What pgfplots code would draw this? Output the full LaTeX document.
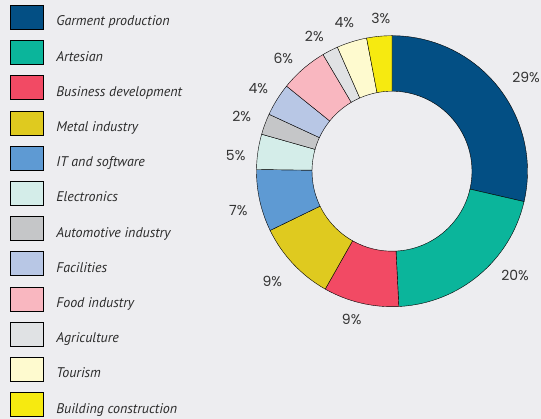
\documentclass[border=0pt]{standalone}
\usepackage{pgfplots}
\pgfplotsset{compat=1.18}
\usepackage{pgfplotstable}
\usepackage{fontspec}
\setmainfont{PT Sans}
\newfontfamily\labfont{Poppins}

\definecolor{bgcol}{HTML}{EDEDF0}
\definecolor{labgray}{HTML}{333333}
\definecolor{legtext}{HTML}{2B2B2B}
\definecolor{garment}{HTML}{034F84}
\definecolor{artesian}{HTML}{0BB59B}
\definecolor{business}{HTML}{F24A64}
\definecolor{metal}{HTML}{DFCA1F}
\definecolor{itsoft}{HTML}{5E9AD3}
\definecolor{electro}{HTML}{D4EDE9}
\definecolor{automot}{HTML}{C5C6C8}
\definecolor{facil}{HTML}{B8C7E5}
\definecolor{food}{HTML}{F9B7C0}
\definecolor{agri}{HTML}{E0E2E4}
\definecolor{tourism}{HTML}{FEFACF}
\definecolor{building}{HTML}{F6EA10}
\def\colname#1{\ifcase#1 garment\or artesian\or business\or metal\or itsoft\or
  electro\or automot\or facil\or food\or agri\or tourism\or building\fi}

% share of the ring, start of each wedge,
% printed label and where the label sits (px from left, px from bottom)
\pgfplotstableread{
idx value start lab lx    ly
0   28.6  0.0   29  526.0 342.0
1   20.6  28.6  20  515.0 144.0
2   9.0   49.2  9   351.7 100.0
3   9.6   58.2  9   272.3 138.0
4   7.4   67.8  7   238.3 208.0
5   4.2   75.2  5   235.7 263.3
6   2.5   79.4  2   241.7 302.3
7   3.9   81.9  4   258.3 330.7
8   5.7   85.8  6   283.3 360.7
9   1.9   91.5  2   314.3 383.0
10  3.6   93.4  4   344.3 396.3
11  3.0   97.0  3   380.7 400.7
}\segs

\def\rout{135.5pt}
\def\rin{80pt}

\begin{document}
\begin{tikzpicture}
\fill[bgcol] (0,0) rectangle (541pt,419pt);
\begin{axis}[
  at={(0,0)}, anchor=south west,
  width=541pt, height=419pt, scale only axis,
  xmin=0, xmax=541, ymin=0, ymax=419,
  hide axis, clip=false,
  legend image code/.code={\fill[#1] (0pt,-7.5pt) rectangle (33pt,16.5pt);},
  legend cell align=left,
  legend style={at={(0.0185,0.9881)}, anchor=north west,
    draw=none, fill=none, inner sep=0pt, outer sep=0pt,
    row sep=10.8pt, column sep=13pt,
    nodes={inner sep=0pt, text=legtext,
      font=\itshape\fontsize{14}{16}\selectfont}},
]
% ring wedges
\addplot[forget plot, scatter, only marks, mark=*, mark size=0pt,
  visualization depends on={\thisrow{start}\as\segstart},
  visualization depends on={\thisrow{value}\as\segval},
  visualization depends on={\thisrow{idx}\as\segidx},
  scatter/@pre marker code/.code={
    \pgfmathsetmacro\aA{90-3.6*\segstart}
    \pgfmathsetmacro\aB{90-3.6*(\segstart+\segval)}
    \pgfmathtruncatemacro\ii{round(\segidx)}
    \edef\cc{\colname{\ii}}
    \fill[fill=\cc] (\aA:\rout) arc[start angle=\aA, end angle=\aB, radius=\rout]
      -- (\aB:\rin) arc[start angle=\aB, end angle=\aA, radius=\rin] -- cycle;
    \scope[opacity=0]
  },
  scatter/@post marker code/.code={\endscope},
] table[x expr=392, y expr=247.8] {\segs};

% percentage labels
\addplot[forget plot, only marks, mark=*, mark size=0pt,
  mark options={draw opacity=0, fill opacity=0},
  point meta=explicit,
  nodes near coords={\labfont\fontsize{14}{16}\selectfont
    \pgfmathprintnumber[assume math mode=true]{\pgfplotspointmeta}\%},
  every node near coord/.append style={anchor=center, inner sep=0pt,
    text=labgray, opacity=1},
] table[x=lx, y=ly, meta=lab] {\segs};

\addlegendimage{fill=garment}
\addlegendimage{fill=artesian}
\addlegendimage{fill=business}
\addlegendimage{fill=metal}
\addlegendimage{fill=itsoft}
\addlegendimage{fill=electro}
\addlegendimage{fill=automot}
\addlegendimage{fill=facil}
\addlegendimage{fill=food}
\addlegendimage{fill=agri}
\addlegendimage{fill=tourism}
\addlegendimage{fill=building}
\legend{Garment production, Artesian, Business development, Metal industry,
  IT and software, Electronics, Automotive industry, Facilities,
  Food industry, Agriculture, Tourism, Building construction}
\end{axis}
\end{tikzpicture}
\end{document}
